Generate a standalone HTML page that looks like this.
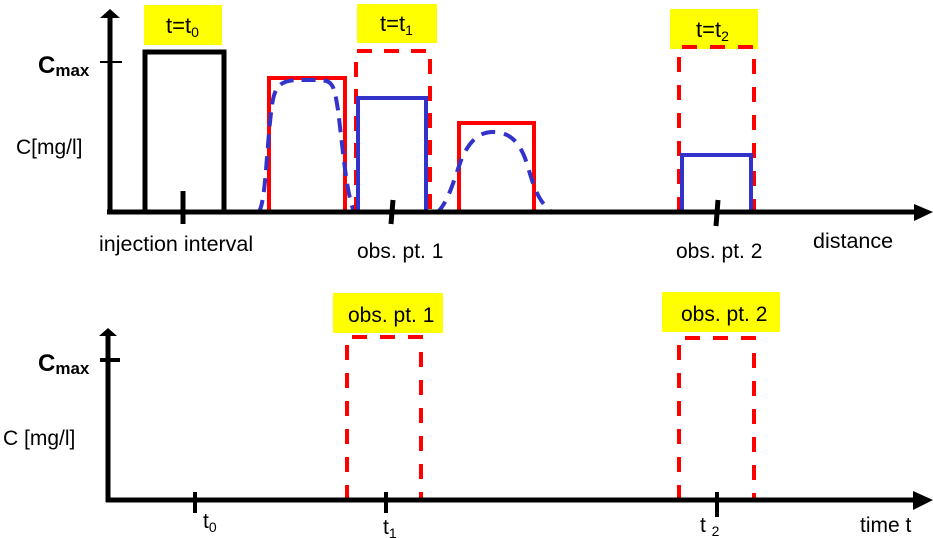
<!DOCTYPE html>
<html><head><meta charset="utf-8"><style>
html,body{margin:0;padding:0;background:#fff;}
svg{display:block;font-family:"Liberation Sans",Arial,sans-serif;}
</style></head><body>
<svg width="933" height="538" viewBox="0 0 933 538" xmlns="http://www.w3.org/2000/svg">
<rect x="144" y="5" width="78" height="40" fill="#ffff00"/>
<text x="166" y="33" font-size="22">t=t<tspan font-size="14" dy="4">0</tspan></text>
<rect x="357" y="4" width="80" height="39" fill="#ffff00"/>
<text x="380" y="31" font-size="22">t=t<tspan font-size="14" dy="4">1</tspan></text>
<rect x="670" y="9" width="88" height="40" fill="#ffff00"/>
<text x="696" y="37" font-size="22">t=t<tspan font-size="14" dy="4">2</tspan></text>

<polyline points="145,212 145,52 224,52 224,212" fill="none" stroke="#000" stroke-width="5"/>
<line x1="183" y1="191" x2="183" y2="224" stroke="#000" stroke-width="5"/>

<polyline points="269,212 269,78 345,78 345,212" fill="none" stroke="#ff0000" stroke-width="4"/>
<path d="M258,213 C266,205 266,150 272,105 C275,84 282,80 300,80 L318,80 C333,80 334,85 338,110 C343,150 347,200 355,213" fill="none" stroke="#3333cc" stroke-width="4" stroke-dasharray="14,8"/>

<polyline points="356,212 356,51 430,51 430,214" fill="none" stroke="#ff0000" stroke-width="4" stroke-dasharray="15,12"/>
<polyline points="358,212 358,98 426,98 426,212" fill="none" stroke="#3333cc" stroke-width="4"/>
<line x1="393" y1="200" x2="391" y2="224" stroke="#000" stroke-width="5"/>

<polyline points="459,212 459,123 534,123 534,212" fill="none" stroke="#ff0000" stroke-width="4"/>
<path d="M437,213 C450,200 455,175 462,158 C470,140 480,132 493,132 C508,132 518,140 525,158 C532,178 535,200 553,213" fill="none" stroke="#3333cc" stroke-width="4" stroke-dasharray="14,9"/>

<polyline points="679,212 679,47 754,47 754,214" fill="none" stroke="#ff0000" stroke-width="4" stroke-dasharray="15,13"/>
<polyline points="682,212 682,155 751,155 751,212" fill="none" stroke="#3333cc" stroke-width="4"/>
<line x1="718" y1="200" x2="716" y2="226" stroke="#000" stroke-width="5"/>

<line x1="110" y1="214" x2="110" y2="16" stroke="#000" stroke-width="5"/>
<polygon points="100,18 110,9 120,18" fill="#000"/>
<line x1="100" y1="62" x2="122" y2="62" stroke="#000" stroke-width="2"/>
<line x1="107" y1="212" x2="918" y2="212" stroke="#000" stroke-width="5"/>
<polygon points="914,204 933,212 914,221" fill="#000"/>

<text x="38" y="73" font-size="24" font-weight="bold">C<tspan font-size="17" dy="3">max</tspan></text>
<text x="16" y="154" font-size="21">C[mg/l]</text>
<text x="99" y="251" font-size="21.5">injection interval</text>
<text x="357" y="258" font-size="21">obs. pt. 1</text>
<text x="676" y="258" font-size="21">obs. pt. 2</text>
<text x="813" y="248" font-size="21.5">distance</text>

<rect x="333" y="293" width="110" height="40" fill="#ffff00"/>
<text x="348" y="322" font-size="21">obs. pt. 1</text>
<rect x="662" y="292" width="118" height="40" fill="#ffff00"/>
<text x="681" y="321" font-size="21">obs. pt. 2</text>

<polyline points="347,500 347,337 421,337 421,500" fill="none" stroke="#ff0000" stroke-width="4" stroke-dasharray="15,13"/>
<polyline points="679,500 679,338 754,338 754,500" fill="none" stroke="#ff0000" stroke-width="4" stroke-dasharray="15,13"/>

<line x1="108" y1="502" x2="108" y2="334" stroke="#000" stroke-width="5"/>
<polygon points="99,336 108,328 117,336" fill="#000"/>
<line x1="100" y1="360" x2="120" y2="360" stroke="#000" stroke-width="4"/>
<line x1="106" y1="500" x2="918" y2="500" stroke="#000" stroke-width="5"/>
<polygon points="913,491 933,500 913,510" fill="#000"/>
<line x1="195" y1="492" x2="195" y2="513" stroke="#000" stroke-width="4"/>
<line x1="386" y1="492" x2="386" y2="513" stroke="#000" stroke-width="4"/>
<line x1="717" y1="492" x2="717" y2="517" stroke="#000" stroke-width="4"/>

<text x="38" y="371" font-size="24" font-weight="bold">C<tspan font-size="17" dy="3">max</tspan></text>
<text x="3" y="445" font-size="21">C [mg/l]</text>
<text x="203" y="528" font-size="21">t<tspan font-size="14" dy="4">0</tspan></text>
<text x="383" y="534" font-size="21">t<tspan font-size="14" dy="4">1</tspan></text>
<text x="700" y="532" font-size="21">t <tspan font-size="14" dy="4">2</tspan></text>
<text x="860" y="532" font-size="21">time t</text>
</svg>
</body></html>
